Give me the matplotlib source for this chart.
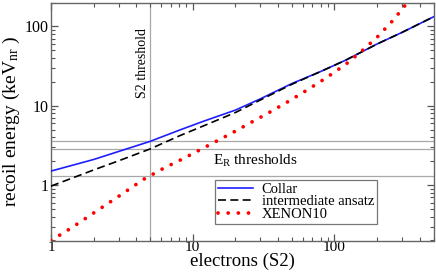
import matplotlib
matplotlib.use("Agg")
import matplotlib.pyplot as plt
from matplotlib.ticker import FixedLocator, LogLocator, NullFormatter

plt.rcParams['font.family'] = ['Liberation Serif', 'DejaVu Serif']
plt.rcParams['mathtext.fontset'] = 'custom'
plt.rcParams['mathtext.rm'] = 'Liberation Serif'
plt.rcParams['mathtext.it'] = 'Liberation Serif'

# curves (electrons in S2 vs recoil energy in keVnr)
collar_x = [1, 2, 3, 5, 8, 12, 20, 30, 50, 80, 120, 200, 300, 500]
collar_y = [1.5, 2.1, 2.65, 3.55, 4.9, 6.4, 8.8, 12.2, 19.0, 27.0, 37.5, 60, 84, 132]

ansatz_x = [1, 2, 3, 5, 8, 12, 20, 30, 50, 80, 120, 200, 300, 500]
ansatz_y = [0.97, 1.55, 2.02, 2.85, 4.15, 5.6, 8.2, 11.8, 18.6, 27.0, 37.5, 60, 84, 132]

xenon_x = [1, 1.4, 2, 3, 4.5, 6.2, 8.6, 12, 19, 26, 35, 48, 65, 88, 120, 155, 200, 260, 320, 400]
xenon_y = [0.2, 0.29, 0.445, 0.72, 1.18, 1.62, 2.16, 2.95, 4.55, 6.2, 8.3, 11.5, 16.0, 22.6, 33.2, 48.4, 73, 120, 190, 310]

s2_threshold = 5
er_thresholds = [3.6, 2.86, 1.3]

fig = plt.figure(figsize=(4.36, 2.73), dpi=100)
ax = fig.add_axes([51 / 436, 1 - 240.5 / 273, 382.5 / 436, 238 / 273])

grey = '#a8a8a8'
for e in er_thresholds:
    ax.axhline(e, color=grey, lw=0.9, zorder=1)
ax.axvline(s2_threshold, color=grey, lw=0.9, zorder=1)

ax.plot(collar_x, collar_y, color='#1e1eff', lw=1.2, label='Collar', zorder=3)
ax.plot(ansatz_x, ansatz_y, color='black', lw=1.2, dashes=(4.8, 2.6),
        label='intermediate ansatz', zorder=4)
ax.plot(xenon_x, xenon_y, color='red', lw=2.7, linestyle=(0, (0.01, 2.7)),
        dash_capstyle='round', label='XENON10', zorder=5)

ax.set_xscale('log')
ax.set_yscale('log')
ax.set_xlim(1, 500)
ax.set_ylim(0.2, 200)

ax.xaxis.set_major_locator(FixedLocator([1, 10, 100]))
ax.yaxis.set_major_locator(FixedLocator([1, 10, 100]))
ax.xaxis.set_minor_locator(LogLocator(base=10, subs=range(2, 10)))
ax.yaxis.set_minor_locator(LogLocator(base=10, subs=range(2, 10)))
ax.set_xticklabels(['1', '10', '100'])
ax.set_yticklabels(['1', '10', '100'])
ax.xaxis.set_minor_formatter(NullFormatter())
ax.yaxis.set_minor_formatter(NullFormatter())

ax.tick_params(which='both', direction='in', top=True, right=True,
               color='#555555', labelsize=11.5)
ax.tick_params(axis='x', pad=0.5, labelsize=11)
ax.tick_params(axis='y', pad=1.5)
ax.tick_params(which='major', length=5, width=0.9)
ax.tick_params(which='minor', length=2.8, width=0.8)
for s in ax.spines.values():
    s.set_color('#666666')
    s.set_linewidth(1.0)

ax.set_xlabel('electrons (S2)', fontsize=13.5, labelpad=-1.2)
ax.set_ylabel(r'recoil energy (keV$_{\mathrm{nr}}$ )', fontsize=14, labelpad=2)

ax.text(4.45, 35, 'S2 threshold', rotation=90, ha='center', va='center', fontsize=10)
ax.text(13.9, 2.0, r'E$_{\mathrm{R}}$ thresholds', ha='left', va='center', fontsize=11)

leg = ax.legend(loc='lower left', bbox_to_anchor=(0.429, 0.07), fontsize=10.5,
                frameon=True, fancybox=False, borderpad=0.2, labelspacing=-0.05,
                handlelength=2.4, handletextpad=0.6, borderaxespad=0)
leg.get_frame().set_edgecolor('#555555')
leg.get_frame().set_linewidth(0.9)

fig.savefig('out.png', dpi=100)
